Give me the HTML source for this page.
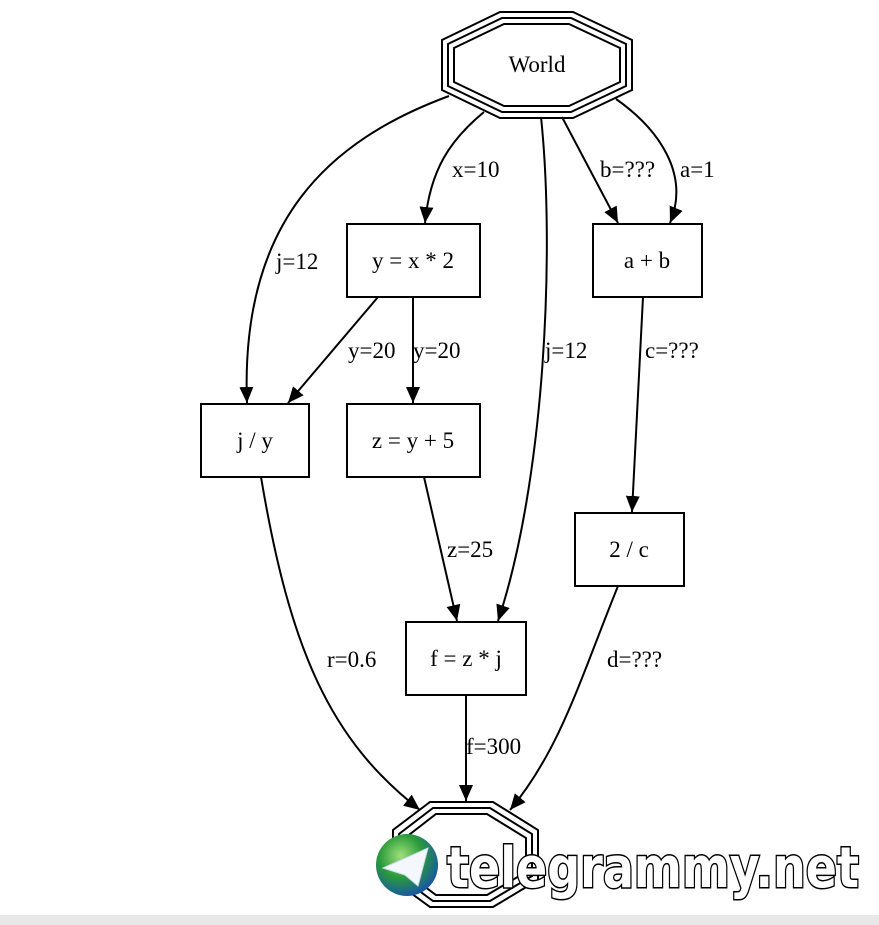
<!DOCTYPE html>
<html><head><style>
body{margin:0;background:#fff}
svg{display:block}
text{font-family:"Liberation Serif",serif;font-size:23px}
</style></head><body>
<svg width="879" height="925" viewBox="0 0 879 925">
<defs>
<marker id="a" markerWidth="16" markerHeight="14" refX="16" refY="7" orient="auto" markerUnits="userSpaceOnUse" viewBox="0 0 16 14">
<path d="M0,0L16,7L0,14z" fill="#000"/></marker>
<radialGradient id="g" cx="40%" cy="35%" r="70%"><stop offset="0" stop-color="#9fe07a"/><stop offset="0.5" stop-color="#2a9a3a"/><stop offset="1" stop-color="#1550b0"/></radialGradient>
</defs>
<rect x="0" y="915" width="879" height="10" fill="#e8e8e8"/>
<g fill="none" stroke="#000" stroke-width="2">
<polygon points="500,12 573,12 632,40 632,90 573,118 500,118 442,90 442,40"/>
<polygon points="502,18 571,18 626,44 626,86 571,112 502,112 448,86 448,44"/>
<polygon points="504,24 569,24 620,48 620,82 569,106 504,106 454,82 454,48"/>
<polygon points="430,802 493,802 538,830 538,880 493,907 430,907 393,880 393,830"/>
<polygon points="433,808 490,808 532,834 532,876 490,901 433,901 399,876 399,834"/>
<polygon points="436,814 487,814 526,838 526,872 487,895 436,895 405,872 405,838"/>
<rect x="347" y="224" width="133" height="73"/>
<rect x="593" y="224" width="109" height="73"/>
<rect x="201" y="404" width="108" height="73"/>
<rect x="347" y="404" width="133" height="73"/>
<rect x="575" y="513" width="109" height="73"/>
<rect x="406" y="622" width="120" height="73"/>
<g marker-end="url(#a)">
<path d="M449,96 C330,140 240,220 247,403"/>
<path d="M484,112 C450,140 430,170 425,223"/>
<path d="M541,117 C555,250 545,480 498,621"/>
<path d="M562,117 L618,223"/>
<path d="M616,99 C660,130 690,175 670,223"/>
<path d="M378,297 L288,403"/>
<path d="M413,297 L413,403"/>
<path d="M643,297 L632,512"/>
<path d="M261,477 C290,650 330,740 420,810"/>
<path d="M424,477 L457,621"/>
<path d="M466,695 L466,801"/>
<path d="M618,586 C580,680 560,750 510,810"/>
</g>
</g>
<g text-anchor="middle">
<text x="537" y="72">World</text>
<text x="413" y="268">y = x * 2</text>
<text x="647" y="268">a + b</text>
<text x="255" y="448">j / y</text>
<text x="413" y="448">z = y + 5</text>
<text x="629" y="557">2 / c</text>
<text x="466" y="666">f = z * j</text>
</g>
<text x="452" y="177">x=10</text>
<text x="276" y="269">j=12</text>
<text x="600" y="177">b=???</text>
<text x="680" y="177">a=1</text>
<text x="348" y="358">y=20</text>
<text x="413" y="358">y=20</text>
<text x="545" y="358">j=12</text>
<text x="645" y="358">c=???</text>
<text x="447" y="557">z=25</text>
<text x="327" y="667">r=0.6</text>
<text x="607" y="667">d=???</text>
<text x="466" y="754">f=300</text>
<circle cx="407" cy="865" r="31" fill="url(#g)"/>
<path d="M383,868 L428,848 L418,886 L405,875 Z" fill="#f4f8fc" stroke="#cde" stroke-width="1"/>
<text x="447" y="887" style="font-family:'DejaVu Sans',sans-serif;font-size:56px;font-weight:bold" fill="#fff" stroke="#000" stroke-width="3" paint-order="stroke" textLength="412" lengthAdjust="spacingAndGlyphs">telegrammy.net</text>
</svg>
</body></html>
